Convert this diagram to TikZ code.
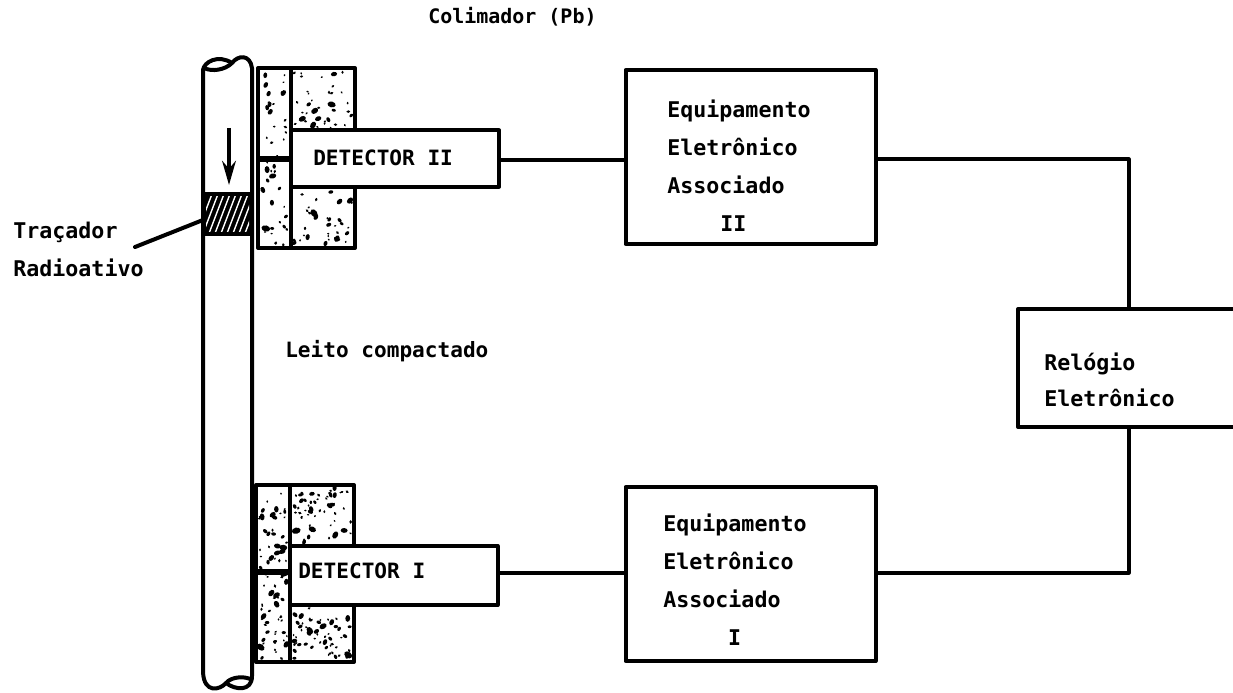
\documentclass[tikz,border=0pt]{standalone}
\usepackage{fontspec}
\setmainfont{DejaVu Sans Mono}[BoldFont={DejaVu Sans Mono Bold}]
\usetikzlibrary{positioning,calc,arrows.meta}
\newcommand{\speckle}[5]{% x0,y0,x1,y1,count
  \begin{scope}
    \clip (#1,#2) rectangle (#3,#4);
    \foreach \n in {1,...,#5} {
      \pgfmathsetmacro{\dx}{#1+3+rnd*(#3-#1-6)}
      \pgfmathsetmacro{\dy}{#2+3+rnd*(#4-#2-6)}
      \pgfmathsetmacro{\dr}{0.3+0.9*rnd*rnd}
      \pgfmathsetmacro{\da}{rnd*180}
      \fill[black, rotate around={\da:(\dx,\dy)}] (\dx,\dy) ellipse[x radius=\dr mm, y radius=0.7*\dr mm];
    }
  \end{scope}
}
\begin{document}
\begin{tikzpicture}[
  x=0.25mm, y=-0.25mm, font=\bfseries,
  line join=round,
  ebox/.style={draw=black, fill=white, line width=1mm, minimum width=62.5mm, minimum height=43.5mm, outer sep=0pt, inner sep=0pt},
  dbox/.style={draw=black, fill=white, line width=1mm, minimum width=52mm, minimum height=14mm, outer sep=0pt, inner sep=0pt},
  cbox/.style={draw=black, line width=1mm},
  etxt/.style={align=left, inner sep=0pt, anchor=west, font=\fontsize{15.4}{27}\selectfont\bfseries},
  lab/.style={align=left, inner sep=0pt, anchor=west, font=\fontsize{15}{27}\selectfont\bfseries},
  wire/.style={line width=0.8mm},
]
  \useasboundingbox (0,0) rectangle (1233,693);
  \clip (0,0) rectangle (1233,693);
  \pgfmathsetseed{58}
  % column
  \draw[line width=1mm] (203,70) .. controls (204,62) and (218,54) .. (232,63)
    .. controls (238,55) and (250,54) .. (252,68) -- (252,676)
    .. controls (252,692) and (235,690) .. (226,683)
    .. controls (220,690) and (204,694) .. (203,672) -- cycle;
  \draw[line width=1mm] (204,68) .. controls (212,72) and (225,70) .. (232,63);
  \draw[line width=1mm] (226,683) .. controls (232,676) and (246,676) .. (252,680);
  % tracer
  \fill[black] (203,192) rectangle (252,236);
  \begin{scope}
    \clip (206,197) rectangle (249,231);
    \foreach \h in {0,6,...,72} \draw[white, line width=0.35mm] (190+\h,236) -- (206+\h,194);
  \end{scope}
  \draw[-{Stealth[length=6mm,width=3.4mm]}, line width=1mm] (229,128) -- (229,185);
  % upper collimator
  \speckle{258}{68}{291}{248}{42}
  \speckle{291}{68}{355}{131}{36}
  \speckle{291}{186}{355}{248}{36}
  \draw[cbox] (258,68) rectangle (355,248);
  \draw[cbox] (291,68) -- (291,248);
  \draw[line width=1.6mm] (258,159) -- (291,159);
  % lower collimator
  \speckle{256}{485}{290}{662}{75}
  \speckle{290}{485}{354}{546}{55}
  \speckle{290}{605}{354}{662}{55}
  \draw[cbox] (256,485) rectangle (354,662);
  \draw[cbox] (290,485) -- (290,662);
  \draw[line width=1.6mm] (256,572) -- (290,572);
  % detectors
  \node[dbox] (det2) at (395,158.5) {};
  \node[lab] (det2txt) at (313,158) {DETECTOR II};
  \node[dbox, minimum height=14.75mm] (det1) at (393.5,575.5) {};
  \node[lab] (det1txt) at (298,571) {DETECTOR I};
  % electronics
  \node[ebox] (eq2) at (750.5,157) {};
  \node[etxt] (eq2txt) at (667,166) {Equipamento\\Eletrônico\\Associado\\\hspace*{2.45em}II};
  \node[ebox] (eq1) at (750.5,574) {};
  \node[etxt] (eq1txt) at (663,580) {Equipamento\\Eletrônico\\Associado\\\hspace*{3em}I};
  \node[draw=black, fill=white, line width=1mm, minimum width=55.5mm, minimum height=29.5mm, outer sep=0pt] (clk) at (1129,368) {};
  \node[etxt, font=\fontsize{15.4}{25.6}\selectfont\bfseries] (clktxt) at (1044,380) {Relógio\\Eletrônico};
  % labels
  \node[lab, font=\fontsize{14.2}{20}\selectfont\bfseries] (colim) at (428,17) {Colimador (Pb)};
  \node[lab] (leito) at (285,351) {Leito compactado};
  \node[etxt] (trac) at (13,249) {Traçador\\Radioativo};
  \coordinate (tracstart) at (135,247);
  \coordinate (tracend) at (203,220);
  % wires
  \draw[wire] (det2.east |- 0,160) -- (eq2.west |- 0,160);
  \draw[wire] (eq2.east |- 0,159) -| (clk.north);
  \draw[wire] (det1.east |- 0,573) -- (eq1.west |- 0,573);
  \draw[wire] (eq1.east |- 0,573) -| (clk.south);
  \draw[line width=1mm, line cap=round] (tracstart) -- (tracend);
\end{tikzpicture}
\end{document}
